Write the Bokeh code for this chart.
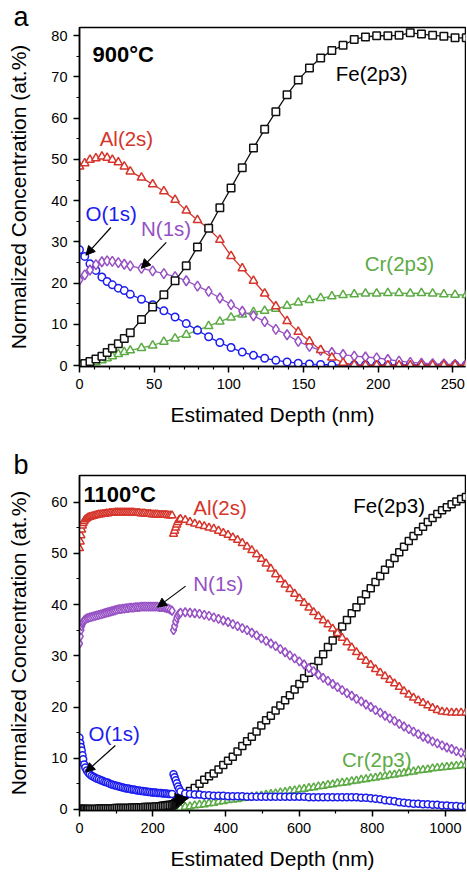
from bokeh.plotting import figure
from bokeh.layouts import column
from bokeh.models import FixedTicker, Label, Arrow, NormalHead, Range1d
from bokeh.embed import file_html
from bokeh.resources import INLINE

FONT = "Liberation Sans"
C_FE = "#111111"
C_AL = "#d5352b"
C_O = "#1c1cf0"
C_N = "#9650c4"
C_CR = "#5cab45"

# ---------------- panel a (900 C) ----------------
depth_a = [0, 3.5, 7, 11, 15, 18.5, 22, 26, 30, 34,
           41.5, 49, 56.5, 64, 71.5, 79, 86.5, 94, 101.5, 109,
           116.5, 124, 131.5, 139, 146.5, 154, 161.5, 169, 176.5, 184,
           191.5, 199, 206.5, 214, 221.5, 229, 236.5, 244, 251.5, 259]
fe_a = [0.2, 0.5, 1.0, 1.6, 2.3, 3.2, 4.2, 5.3, 6.6, 8.0,
        11.2, 14.2, 17.2, 20.6, 24.2, 28.8, 33.3, 38.3, 43.1, 48.0,
        52.8, 57.3, 61.6, 65.7, 69.3, 72.2, 74.6, 76.4, 77.7, 79.1,
        79.7, 80.0, 80.0, 80.1, 80.7, 80.4, 80.1, 79.9, 79.5, 79.5]
al_a = [48.3, 49.1, 49.9, 50.3, 50.7, 50.4, 49.9, 49.3, 48.3, 47.1,
        45.6, 44.0, 42.3, 40.2, 37.6, 35.3, 33.2, 30.5, 26.6, 23.6,
        20.6, 17.5, 14.4, 10.8, 8.2, 5.9, 3.8, 2.0, 0.7, 0.2,
        0.1, 0.1, 0.1, 0.1, 0.1, 0.1, 0.1, 0.1, 0.1, 0.1]
o_a = [28.1, 26.5, 24.7, 23.1, 21.5, 20.4, 19.6, 18.8, 18.2, 17.3,
       16.1, 14.8, 13.3, 11.8, 10.2, 8.6, 7.0, 5.6, 4.4, 3.3,
       2.5, 1.8, 1.3, 0.9, 0.6, 0.4, 0.3, 0.2, 0.2, 0.2,
       0.2, 0.2, 0.2, 0.2, 0.2, 0.2, 0.2, 0.2, 0.2, 0.2]
n_a = [20.8, 22.0, 23.2, 24.5, 25.2, 25.4, 25.3, 25.0, 24.6, 24.2,
       23.6, 23.0, 22.3, 21.6, 20.6, 19.3, 18.0, 16.4, 14.8, 13.2,
       12.1, 10.7, 8.8, 7.5, 5.9, 4.7, 3.7, 3.2, 2.7, 2.3,
       2.1, 1.9, 1.5, 1.1, 0.8, 0.6, 0.5, 0.4, 0.3, 0.3]
cr_a = [0.1, 0.2, 0.4, 0.8, 1.3, 1.8, 2.3, 2.8, 3.3, 3.7,
        4.3, 4.9, 5.8, 6.6, 7.5, 8.6, 9.6, 10.7, 11.7, 12.4,
        13.0, 13.3, 13.8, 14.5, 15.3, 15.9, 16.4, 16.8, 17.1, 17.3,
        17.5, 17.5, 17.6, 17.6, 17.5, 17.6, 17.5, 17.3, 17.2, 17.1]

# ---------------- panel b (1100 C), first sputter segment ----------------
depth_b1 = [0, 2, 4, 6, 8, 10, 13, 16, 20, 24, 28,
            33, 38, 43, 48, 53, 58, 63, 68, 73, 78,
            83, 88, 93, 98, 103, 108, 113, 118, 123, 128,
            133, 138, 143, 148, 153, 158, 163, 168, 173, 178,
            183, 188, 193, 198, 203, 208, 213, 218, 223, 228,
            233, 238, 243, 248, 253]
al_b1 = [51.0, 52.3, 53.5, 54.6, 55.4, 55.9, 56.3, 56.6, 56.8, 57.0, 57.1,
         57.2, 57.3, 57.4, 57.5, 57.6, 57.6, 57.7, 57.7, 57.8, 57.8,
         57.9, 57.9, 57.9, 58.0, 58.0, 58.0, 58.0, 58.0, 58.0, 58.0,
         58.0, 58.0, 58.0, 58.0, 57.9, 57.9, 57.9, 57.8, 57.8, 57.8,
         57.7, 57.7, 57.7, 57.6, 57.6, 57.6, 57.6, 57.5, 57.5, 57.5,
         57.5, 57.5, 57.4, 57.4, 57.4]
n_b1 = [32.4, 33.8, 35.0, 35.8, 36.3, 36.6, 36.9, 37.1, 37.3, 37.4, 37.5,
        37.6, 37.7, 37.8, 37.9, 38.0, 38.1, 38.2, 38.3, 38.4, 38.5,
        38.6, 38.7, 38.8, 38.9, 39.0, 39.1, 39.1, 39.2, 39.2, 39.3,
        39.3, 39.4, 39.4, 39.4, 39.5, 39.5, 39.5, 39.6, 39.6, 39.6,
        39.6, 39.6, 39.6, 39.6, 39.6, 39.6, 39.6, 39.5, 39.5, 39.5,
        39.4, 39.3, 39.2, 39.0, 38.8]
o_b1 = [14.0, 13.0, 12.2, 11.5, 10.6, 9.8, 8.8, 8.2, 7.6, 7.2, 6.9,
        6.6, 6.4, 6.2, 6.0, 5.9, 5.7, 5.6, 5.4, 5.3, 5.2,
        5.0, 4.9, 4.8, 4.7, 4.6, 4.5, 4.4, 4.3, 4.2, 4.1,
        4.1, 4.0, 3.9, 3.9, 3.8, 3.7, 3.7, 3.6, 3.6, 3.5,
        3.5, 3.4, 3.4, 3.3, 3.3, 3.3, 3.2, 3.2, 3.2, 3.1,
        3.1, 3.1, 3.0, 3.0, 3.0]
fe_b1 = [0.1, 0.1, 0.1, 0.1, 0.1, 0.1, 0.1, 0.1, 0.1, 0.1, 0.1,
         0.1, 0.1, 0.1, 0.1, 0.2, 0.2, 0.2, 0.2, 0.2, 0.2,
         0.2, 0.2, 0.2, 0.3, 0.3, 0.3, 0.3, 0.3, 0.3, 0.3,
         0.3, 0.3, 0.4, 0.4, 0.4, 0.4, 0.4, 0.4, 0.4, 0.5,
         0.5, 0.5, 0.5, 0.5, 0.5, 0.6, 0.6, 0.6, 0.6, 0.7,
         0.7, 0.7, 0.8, 0.8, 0.8]

# ---------------- panel b, second sputter segment ----------------
depth_b2 = [257, 260, 263, 266, 269, 272.5, 276,
            289, 302, 315, 328, 341, 354, 367, 380, 393, 406,
            419, 432, 445, 458, 471, 484, 497, 510, 523, 536,
            549, 562, 575, 588, 601, 614, 627, 640, 653, 666,
            679, 692, 705, 718, 731, 744, 757, 770, 783, 796,
            809, 822, 835, 848, 861, 874, 887, 900, 913, 926,
            939, 952, 965, 978, 991, 1004, 1017, 1030, 1043, 1056]
al_b2 = [53.8, 54.4, 55.0, 55.6, 56.1, 56.5, 56.7,
         56.5, 56.1, 55.8, 55.5, 55.3, 55.0, 54.8, 54.4, 54.0, 53.6,
         53.1, 52.6, 52.0, 51.3, 50.6, 49.8, 48.9, 48.0, 47.0, 45.9,
         44.9, 43.9, 43.0, 42.1, 41.2, 40.3, 39.4, 38.5, 37.7, 36.9,
         36.1, 35.3, 34.4, 33.5, 32.6, 31.6, 30.7, 29.8, 29.0, 28.2,
         27.4, 26.7, 26.0, 25.3, 24.6, 23.9, 23.1, 22.4, 21.8, 21.3,
         20.8, 20.3, 19.8, 19.4, 19.1, 19.0, 18.9, 18.9, 18.9, 18.9]
n_b2 = [35.0, 35.8, 36.7, 37.4, 37.9, 38.2, 38.4,
        38.5, 38.4, 38.3, 38.2, 38.0, 37.8, 37.5, 37.2, 36.9, 36.6,
        36.2, 35.8, 35.4, 35.0, 34.5, 34.0, 33.4, 32.9, 32.4, 31.9,
        31.3, 30.7, 30.1, 29.5, 28.9, 28.3, 27.6, 27.0, 26.3, 25.7,
        25.1, 24.5, 23.9, 23.3, 22.7, 22.2, 21.6, 21.1, 20.5, 20.0,
        19.4, 18.9, 18.3, 17.8, 17.3, 16.7, 16.2, 15.7, 15.2, 14.7,
        14.2, 13.8, 13.3, 12.9, 12.5, 12.1, 11.8, 11.4, 11.1, 10.9]
fe_b2 = [0.9, 1.1, 1.3, 1.5, 1.7, 1.9, 2.1,
         3.0, 3.6, 4.2, 5.0, 5.8, 6.5, 7.0, 7.8, 8.7, 9.5,
         10.3, 11.3, 12.4, 13.3, 14.2, 15.2, 16.4, 17.4, 18.3, 19.3,
         20.3, 21.3, 22.3, 23.4, 24.5, 25.6, 26.7, 27.8, 29.0, 30.3,
         31.7, 33.0, 34.4, 35.7, 37.0, 38.3, 39.5, 40.8, 42.0, 43.2,
         44.4, 45.6, 46.8, 48.0, 49.1, 50.2, 51.3, 52.4, 53.4, 54.3,
         55.2, 56.1, 56.9, 57.7, 58.4, 59.0, 59.6, 60.1, 60.6, 61.0]
o_b2 = [6.9, 6.3, 5.7, 5.1, 4.5, 4.0, 3.5,
        3.1, 3.0, 2.9, 2.9, 2.8, 2.8, 2.7, 2.7, 2.7, 2.6,
        2.6, 2.6, 2.6, 2.5, 2.5, 2.5, 2.5, 2.5, 2.5, 2.5,
        2.5, 2.5, 2.5, 2.5, 2.5, 2.5, 2.4, 2.4, 2.4, 2.4,
        2.4, 2.4, 2.4, 2.4, 2.4, 2.4, 2.4, 2.3, 2.3, 2.2,
        2.1, 2.0, 1.8, 1.7, 1.6, 1.4, 1.3, 1.2, 1.1, 1.1,
        1.0, 1.0, 0.9, 0.9, 0.8, 0.8, 0.7, 0.7, 0.6, 0.6]
cr_b2 = [0.1, 0.1, 0.2, 0.2, 0.2, 0.3, 0.3,
         0.5, 0.6, 0.8, 0.9, 1.0, 1.2, 1.3, 1.5, 1.6, 1.8,
         1.9, 2.0, 2.2, 2.3, 2.5, 2.6, 2.7, 2.9, 3.0, 3.1,
         3.3, 3.4, 3.6, 3.7, 3.9, 4.0, 4.2, 4.3, 4.5, 4.6,
         4.8, 4.9, 5.1, 5.2, 5.3, 5.5, 5.6, 5.8, 5.9, 6.1,
         6.2, 6.4, 6.5, 6.7, 6.8, 7.0, 7.1, 7.3, 7.4, 7.6,
         7.7, 7.8, 8.0, 8.1, 8.2, 8.3, 8.4, 8.5, 8.6, 8.7]

ticks_a_x = [0, 50, 100, 150, 200, 250]
minor_a_x = [10, 20, 30, 40, 60, 70, 80, 90, 110, 120, 130, 140, 160, 170, 180, 190, 210, 220, 230, 240]
ticks_a_y = [0, 10, 20, 30, 40, 50, 60, 70, 80]
minor_a_y = [5, 15, 25, 35, 45, 55, 65, 75]
ticks_b_x = [0, 200, 400, 600, 800, 1000]
minor_b_x = [100, 300, 500, 700, 900]
ticks_b_y = [0, 10, 20, 30, 40, 50, 60]
minor_b_y = [5, 15, 25, 35, 45, 55]


def make_fig(letter, xr, yr, fh, border_top, border_bottom, tx, mx, ty, my):
    p = figure(frame_width=386, frame_height=fh, output_backend="svg",
               toolbar_location=None, x_range=Range1d(*xr), y_range=Range1d(*yr),
               min_border_left=79, min_border_right=1,
               min_border_top=border_top, min_border_bottom=border_bottom)
    p.grid.visible = False
    p.outline_line_color = "black"
    p.outline_line_width = 1.5
    p.outline_line_alpha = 1
    p.background_fill_color = "white"
    p.border_fill_color = "white"
    # panel letter as the (left-shifted) title
    p.title.text = letter
    p.title.text_font = FONT
    p.title.text_font_size = "27px"
    p.title.text_font_style = "normal"
    p.title.text_color = "black"
    p.title.align = "left"
    p.title.offset = -66
    p.title.standoff = -8
    p.xaxis.ticker = FixedTicker(ticks=tx, minor_ticks=mx)
    p.yaxis.ticker = FixedTicker(ticks=ty, minor_ticks=my)
    for ax in (p.xaxis[0], p.yaxis[0]):
        ax.axis_line_width = 1.5
        ax.major_tick_line_width = 1.5
        ax.minor_tick_line_width = 1.2
        ax.major_tick_out = 6
        ax.major_tick_in = 0
        ax.minor_tick_out = 3
        ax.minor_tick_in = 0
        ax.major_label_text_font = FONT
        ax.major_label_text_font_size = "14.5px"
        ax.major_label_text_color = "black"
        ax.axis_label_text_font = FONT
        ax.axis_label_text_font_size = "21px"
        ax.axis_label_text_font_style = "normal"
        ax.axis_label_text_color = "black"
    p.xaxis.major_label_standoff = 6
    p.xaxis.axis_label_standoff = 11
    p.yaxis.major_label_standoff = 6
    p.yaxis.axis_label_standoff = 18
    p.xaxis.axis_label = "Estimated Depth (nm)"
    p.yaxis.axis_label = "Normalized Concentration (at.%)"
    return p


def series(p, x, y, color, marker, size, line=True):
    if line:
        p.line(x, y, line_color=color, line_width=1.3)
    p.scatter(x, y, marker=marker, size=size, line_color=color,
              fill_color="white", line_width=1.5)


def text(p, x, y, s, color, size="20.5px", bold=False):
    p.add_layout(Label(x=x, y=y, text=s, text_color=color, text_font=FONT,
                       text_font_size=size, text_align="left", text_baseline="middle",
                       text_font_style="bold" if bold else "normal"))


def arrow(p, x0, y0, x1, y1, head=9):
    p.add_layout(Arrow(end=NormalHead(size=head, fill_color="black", line_color="black", line_width=1),
                       x_start=x0, y_start=y0, x_end=x1, y_end=y1,
                       line_color="black", line_width=1.2))


# ---- panel a ----
p1 = make_fig("a", (0, 258.5), (-0.2, 82), 339, 27, 75,
              ticks_a_x, minor_a_x, ticks_a_y, minor_a_y)
series(p1, depth_a, cr_a, C_CR, "triangle", 8.5)
series(p1, depth_a, o_a, C_O, "circle", 7.5)
series(p1, depth_a, n_a, C_N, "diamond", 10)
series(p1, depth_a, al_a, C_AL, "triangle", 8.5)
series(p1, depth_a, fe_a, C_FE, "square", 7.5)

text(p1, 8.7, 75.4, "900°C", "black", "22px", bold=True)
text(p1, 171.6, 70.8, "Fe(2p3)", "black")
text(p1, 13.5, 55.0, "Al(2s)", C_AL)
text(p1, 4.0, 37.0, "O(1s)", C_O)
text(p1, 41.2, 33.3, "N(1s)", C_N)
text(p1, 191.0, 24.7, "Cr(2p3)", C_CR)
arrow(p1, 21.0, 33.5, 4.3, 26.8)
arrow(p1, 58.1, 29.9, 41.4, 23.6)

# ---- panel b ----
p2 = make_fig("b", (0, 1055), (-0.2, 65.2), 335, 34, 58,
              ticks_b_x, minor_b_x, ticks_b_y, minor_b_y)
series(p2, depth_b2, cr_b2, C_CR, "triangle", 8, line=False)
series(p2, depth_b1, fe_b1, C_FE, "square", 7, line=False)
series(p2, depth_b2, fe_b2, C_FE, "square", 7, line=False)
series(p2, depth_b1, n_b1, C_N, "diamond", 9, line=False)
series(p2, depth_b2, n_b2, C_N, "diamond", 9, line=False)
series(p2, depth_b1, al_b1, C_AL, "triangle", 8, line=False)
series(p2, depth_b2, al_b2, C_AL, "triangle", 8, line=False)
series(p2, depth_b1, o_b1, C_O, "circle", 7, line=False)
series(p2, depth_b2, o_b2, C_O, "circle", 7, line=False)

text(p2, 11.0, 61.4, "1100°C", "black", "22px", bold=True)
text(p2, 311.0, 58.9, "Al(2s)", C_AL)
text(p2, 748.0, 59.3, "Fe(2p3)", "black")
text(p2, 311.0, 44.2, "N(1s)", C_N)
text(p2, 24.6, 14.8, "O(1s)", C_O)
text(p2, 717.6, 9.8, "Cr(2p3)", C_CR)
arrow(p2, 290.0, 43.6, 213.0, 39.5)
arrow(p2, 98.0, 12.5, 17.0, 7.3)
arrow(p2, 215.0, 1.4, 298.0, 2.2, head=13)

layout = column(p1, p2)
open("out.html", "w").write(file_html(layout, INLINE))
